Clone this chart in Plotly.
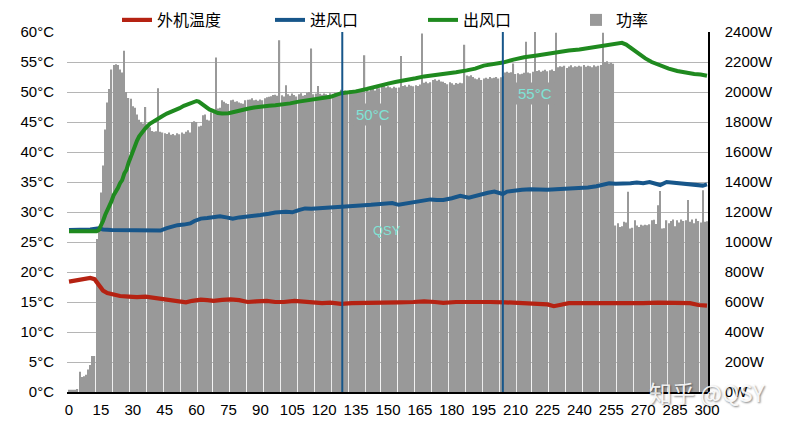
import plotly.graph_objects as go

# ---------------- data ----------------
power_x = list(range(0, 301))
power_w = [
    15, 15, 15, 15, 20, 135, 100, 105, 115, 150,
    180, 240, 240, 1020, 1100, 1330, 1510, 1750, 1930, 2020,
    2150, 2180, 2185, 2180, 2150, 2130, 2275, 2000, 1960, 1955,
    1905, 1895, 1850, 1815, 1800, 1790, 1900, 1770, 1765, 1740,
    1735, 1738, 2025, 1735, 1730, 1725, 1720, 1730, 1715, 1720,
    1712, 1725, 1718, 1730, 1722, 1735, 1745, 1730, 1800, 1805,
    1800, 1770, 1775, 1845, 1850, 1815, 1810, 1865, 1870, 2230,
    1890, 1895, 1945, 1935, 1925, 1920, 1945, 1948, 1935, 1938,
    1930, 1925, 1922, 1945, 1948, 1950, 1958, 1945, 1948, 1942,
    1950, 1945, 1958, 1965, 1968, 1972, 1980, 1982, 1975, 2345,
    1978, 1970, 2045, 1985, 1975, 1990, 1980, 1970, 1985, 1992,
    1975, 1980, 1995, 2000, 2290, 1985, 1990, 2040, 1988, 1982,
    1990, 1985, 1980, 1992, 1988, 1995, 1985, 1990, 2015, 2005,
    2010, 2000, 2012, 1995, 2008, 2015, 2000, 2010, 2005, 2245,
    2012, 2005, 2015, 2020, 2010, 2030, 2025, 2035, 2040, 2030,
    2038, 2032, 2025, 2035, 2028, 2030, 2240, 2040, 2045, 2035,
    2048, 2042, 2038, 2045, 2040, 2050, 2390, 2062, 2068, 2058,
    2065, 2080, 2085, 2075, 2082, 2070, 2068, 2060, 2052, 2065,
    2058, 2048, 2060, 2055, 2062, 2058, 2315, 2110, 2105, 2112,
    2100, 2090, 2085, 2095, 2080, 2090, 2095, 2088, 2100, 2092,
    2095, 2100, 2090, 2098, 2105, 2130, 2135, 2128, 2132, 2190,
    2120, 2125, 2118, 2122, 2128, 2335, 2130, 2125, 2135, 2400,
    2140, 2145, 2135, 2142, 2148, 2138, 2145, 2150, 2140, 2395,
    2165, 2172, 2168, 2175, 2160, 2170, 2178, 2165, 2172, 2168,
    2175, 2170, 2180, 2168, 2175, 2172, 2165, 2178, 2170, 2175,
    2180, 2395, 2200, 2205, 2190, 2195, 2188, 1110, 1125, 1100,
    1105, 1135, 1130, 1335, 1090, 1095, 1145, 1110, 1100, 1115,
    1110, 1115, 1112, 1118, 1145, 1148, 1120, 1245, 1340, 1090,
    1092, 1145, 1125, 1140, 1150, 1105, 1145, 1130, 1150, 1140,
    1145, 1280, 1135, 1150, 1125, 1155, 1140, 1130, 1345, 1135,
    1138,
]

outdoor_x = [0, 4, 7, 10, 12, 14, 16, 18, 20, 24, 28, 32, 36, 40, 44, 48, 52, 55,
             58, 62, 65, 68, 72, 76, 80, 84, 88, 93, 97, 101, 106, 110, 114, 119,
             123, 128, 133, 137, 142, 148, 155, 162, 167, 172, 176, 182, 190, 198,
             205, 213, 220, 225, 228, 231, 235, 245, 253, 261, 270, 277, 285, 292,
             296, 300]
outdoor_t = [18.4, 18.6, 18.8, 19.0, 18.8, 17.7, 16.9, 16.5, 16.3, 16.0, 15.9, 15.8,
             15.9, 15.7, 15.5, 15.3, 15.1, 14.95, 15.2, 15.4, 15.3, 15.2, 15.35, 15.45,
             15.3, 15.0, 15.1, 15.2, 15.0, 15.0, 15.2, 15.1, 15.0, 14.8, 14.9, 14.7,
             14.8, 14.8, 14.9, 14.9, 14.95, 15.0, 15.1, 15.0, 14.85, 15.0, 15.05, 15.0,
             14.95, 14.8, 14.75, 14.6, 14.3, 14.5, 14.8, 14.8, 14.75, 14.7, 14.8, 14.9,
             14.85, 14.8, 14.5, 14.4]

inlet_x = [0, 5, 10, 14, 16, 20, 26, 32, 38, 43, 46, 49, 51, 54, 57, 59, 62, 65, 68,
           71, 74, 77, 80, 84, 87, 90, 94, 97, 102, 105, 108, 111, 114, 117, 121, 125,
           129, 133, 137, 142, 148, 152, 155, 158, 162, 166, 170, 173, 176, 180, 184,
           188, 191, 194, 197, 200, 204, 206, 209, 213, 217, 221, 225, 229, 234, 239,
           244, 248, 251, 254, 257, 261, 264, 267, 270, 273, 276, 278, 281, 284, 287,
           291, 295, 298, 300]
inlet_t = [27.0, 27.0, 27.1, 27.3, 27.1, 27.0, 26.95, 26.9, 26.9, 26.9, 27.3, 27.6,
           27.8, 27.9, 28.1, 28.5, 28.9, 29.0, 29.1, 29.3, 29.1, 28.9, 29.1, 29.2,
           29.3, 29.5, 29.7, 29.9, 30.05, 29.95, 30.3, 30.6, 30.55, 30.6, 30.7, 30.8,
           30.9, 31.0, 31.1, 31.2, 31.4, 31.5, 31.2, 31.4, 31.7, 31.9, 32.1, 32.0,
           32.0, 32.3, 32.7, 32.4, 32.7, 33.0, 33.2, 33.4, 33.0, 33.4, 33.6, 33.7,
           33.8, 33.7, 33.7, 33.8, 33.85, 33.9, 34.1, 34.3, 34.6, 34.8, 34.7, 34.7,
           34.8, 34.9, 34.8, 35.0, 34.8, 34.5, 35.0, 34.9, 34.7, 34.6, 34.5, 34.4,
           34.6]

outlet_x = [0, 5, 10, 13, 14, 15, 16, 17, 18, 19, 20, 21, 22, 23, 24, 25, 26, 27, 28,
            29, 30, 31, 32, 33, 34, 36, 38, 40, 42, 44, 46, 48, 50, 52, 54, 56, 58, 60,
            61, 62, 64, 66, 68, 70, 72, 75, 78, 81, 84, 87, 90, 94, 97, 100, 104, 108,
            113, 118, 123, 128, 131, 135, 140, 146, 150, 154, 158, 163, 167, 172, 177,
            182, 187, 191, 195, 199, 204, 209, 214, 220, 225, 230, 235, 240, 245, 250,
            253, 256, 258, 260, 262, 265, 268, 271, 274, 278, 282, 286, 290, 294, 297,
            300]
outlet_t = [26.8, 26.8, 26.8, 26.8, 27.0, 27.6, 28.5, 29.5, 30.2, 31.2, 31.8, 32.8,
            33.3, 34.0, 34.8, 35.3, 36.4, 37.0, 38.2, 39.2, 40.2, 41.2, 41.9, 42.6,
            43.1, 44.0, 44.7, 45.2, 45.7, 46.0, 46.4, 46.7, 46.9, 47.3, 47.7, 48.0,
            48.3, 48.5, 48.4, 48.1, 47.6, 47.1, 46.8, 46.5, 46.4, 46.45, 46.7, 47.0,
            47.2, 47.4, 47.6, 47.7, 47.8, 47.9, 48.1, 48.4, 48.7, 48.9, 49.2, 49.8,
            49.9, 50.1, 50.5, 51.1, 51.4, 51.7, 51.9, 52.3, 52.6, 52.8, 53.0, 53.3,
            53.6, 53.9, 54.4, 54.6, 54.9, 55.4, 55.8, 56.1, 56.4, 56.7, 56.9, 57.1,
            57.4, 57.7, 57.9, 58.1, 58.2, 58.2, 57.9, 57.1, 56.3, 55.6, 55.0, 54.4,
            53.9, 53.5, 53.2, 53.0, 52.9, 52.7]

marker_x = [128.5, 204]
marker_labels = ["50°C", "55°C"]
marker_label_pos = [(143, 46.2), (219, 49.7)]

names = ["外机温度", "进风口", "出风口", "功率"]

# ---------------- figure ----------------
RED = "#b52212"
BLUE = "#17568a"
GREEN = "#1f8a1f"
GRAY = "#999999"
CYAN = "#7fe3d6"
FONT = "Liberation Sans, Arial, Noto Sans CJK SC, sans-serif"

ML, MR, MT, MB = 67, 80, 32, 44
PW, PH = 788 - ML - MR, 436 - MT - MB

fig = go.Figure()
fig.add_trace(go.Scatter(x=outdoor_x, y=outdoor_t, name=names[0], mode="lines",
                         line=dict(color=RED, width=4.2), yaxis="y2"))
fig.add_trace(go.Scatter(x=inlet_x, y=inlet_t, name=names[1], mode="lines",
                         line=dict(color=BLUE, width=4), yaxis="y2"))
fig.add_trace(go.Scatter(x=outlet_x, y=outlet_t, name=names[2], mode="lines",
                         line=dict(color=GREEN, width=4), yaxis="y2"))
fig.add_trace(go.Bar(x=power_x, y=power_w, name=names[3], marker_color=GRAY,
                     marker_line_width=0, yaxis="y"))

for mx in marker_x:
    fig.add_shape(type="line", x0=mx, x1=mx, y0=0, y1=60, xref="x", yref="y2",
                  line=dict(color=BLUE, width=2))

for (ax_, ay_), txt in zip(marker_label_pos, marker_labels):
    fig.add_annotation(x=ax_, y=ay_, xref="x", yref="y2", text=txt, showarrow=False,
                       font=dict(color=CYAN, size=15, family=FONT),
                       bgcolor=GRAY, borderpad=2)

fig.add_annotation(x=149.5, y=27, xref="x", yref="y2", text="QSY", showarrow=False,
                   font=dict(color=CYAN, size=13, family=FONT))

fig.add_annotation(x=(707 - ML) / PW, y=(MT + PH - 392) / PH, xref="paper", yref="paper",
                   text="知乎 @QSY", showarrow=False, xanchor="center", yanchor="middle",
                   font=dict(color="rgba(255,255,255,0.9)", size=23,
                             family="Noto Sans CJK SC, sans-serif",
                             shadow="1px 1px 2px rgba(0,0,0,0.55)"))

fig.update_layout(
    width=788, height=436,
    margin=dict(l=ML, r=MR, t=MT, b=MB, autoexpand=False),
    paper_bgcolor="white", plot_bgcolor="white",
    font=dict(family=FONT, size=15, color="black"),
    bargap=0.42,
    showlegend=True,
    legend=dict(orientation="h", x=(117 - ML) / PW, xanchor="left",
                y=1 + 12 / PH, yanchor="middle", entrywidth=108, entrywidthmode="pixels",
                font=dict(size=16, family="Noto Sans CJK SC, Liberation Sans, sans-serif"),
                bgcolor="rgba(0,0,0,0)", traceorder="normal"),
    xaxis=dict(range=[-0.94, 300.47], tick0=0, dtick=15, showgrid=False,
               showline=True, linecolor="black", linewidth=1.5, ticks="",
               zeroline=False, ticklabelstandoff=3),
    yaxis=dict(range=[0, 2400], dtick=200, ticksuffix="W", side="right",
               showgrid=True, gridcolor="#b5b5b5", gridwidth=1, zeroline=False,
               showline=True, linecolor="black", linewidth=1.5, ticks="",
               ticklabelstandoff=12),
    yaxis2=dict(range=[0, 60], dtick=5, ticksuffix="°C", side="left",
                overlaying="y", showgrid=False, zeroline=False, showline=False,
                ticks="", ticklabelstandoff=12),
)

fig.write_html("out.html", config={"displayModeBar": False},
               post_script="document.body.style.margin='0';document.body.style.padding='0';")
